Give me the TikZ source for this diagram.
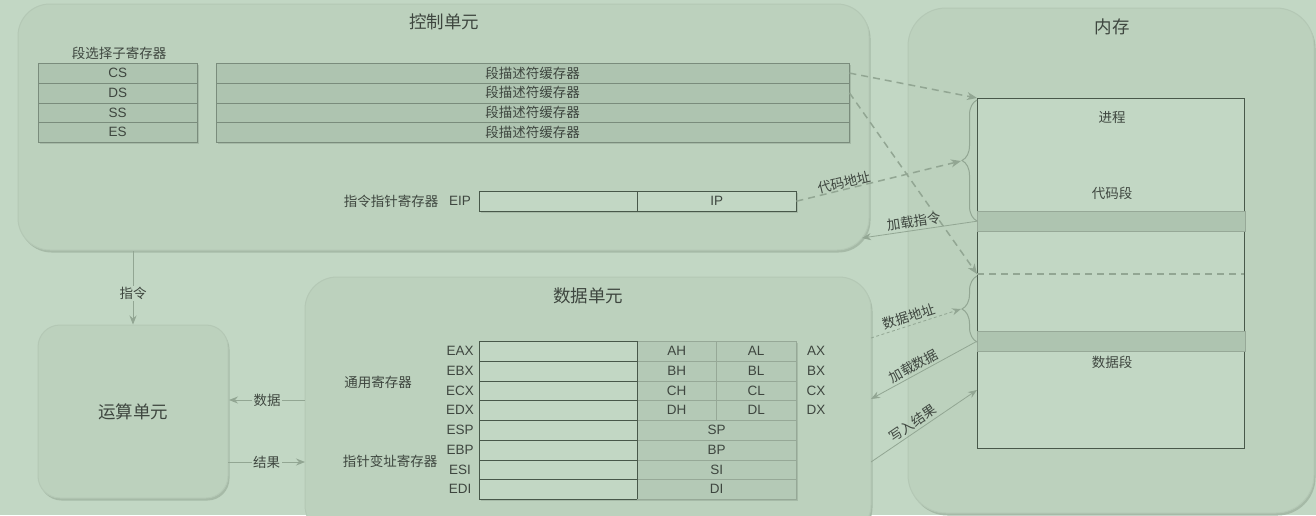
\documentclass[tikz,border=0pt]{standalone}
\usepackage{fontspec}
\setmainfont{Liberation Sans}
\newfontfamily\cjk{Noto Sans CJK SC}
\usetikzlibrary{arrows.meta,decorations.pathreplacing,shadows}
\definecolor{bgc}{RGB}{194,215,196}
\definecolor{panelc}{RGB}{188,209,189}
\definecolor{panelb}{RGB}{180,200,181}
\definecolor{shadowc}{RGB}{166,186,167}
\definecolor{cellc}{RGB}{174,196,176}
\definecolor{cellb}{RGB}{122,140,124}
\definecolor{lightc}{RGB}{194,215,196}
\definecolor{darkb}{RGB}{72,88,74}
\definecolor{txtc}{RGB}{62,70,63}
\definecolor{arrc}{RGB}{146,166,147}
\definecolor{regc}{RGB}{180,201,182}
\definecolor{regb}{RGB}{150,168,151}
\begin{document}
\begin{tikzpicture}[x=1pt,y=-1pt,
  every node/.style={text=txtc},
  base/.style={font=\fontsize{13.5}{16}\selectfont},
  cn/.style={font=\cjk\fontsize{13.5}{16}\selectfont},
  title/.style={font=\cjk\fontsize{17.5}{20}\selectfont},
  panel/.style={draw=panelb, fill=panelc, line width=1pt, inner sep=0pt,
    drop shadow={shadow xshift=1.5pt, shadow yshift=-2.5pt, fill=shadowc, opacity=1}},
  selcell/.style={base, draw=cellb, fill=cellc, minimum width=159pt, minimum height=19.75pt, inner sep=0pt, anchor=north west},
  desccell/.style={cn, draw=cellb, fill=cellc, minimum width=633pt, minimum height=19.75pt, inner sep=0pt, anchor=north west},
  lcell/.style={base, draw=darkb, fill=lightc, minimum width=158pt, minimum height=19.75pt, inner sep=0pt, anchor=north west},
  rcell/.style={base, draw=regb, fill=regc, minimum height=19.75pt, inner sep=0pt, anchor=north west},
  dasharrow/.style={draw=arrc, line width=1.5pt, dash pattern=on 7pt off 5pt, -{Stealth[length=10pt,width=8pt,inset=3pt]}},
  dotarrow/.style={draw=arrc, line width=0.8pt, dash pattern=on 3pt off 2.5pt, -{Stealth[length=9pt,width=7pt,inset=3pt]}},
  solarrow/.style={draw=arrc, line width=0.8pt, -{Stealth[length=9pt,width=7pt,inset=3pt]}},
  elbl/.style={cn, sloped, above, inner sep=2pt},
  flbl/.style={cn, fill=bgc, inner sep=1.5pt},
  bracestyle/.style={draw=arrc, line width=1pt, decorate, decoration={brace, amplitude=15pt}}
]
\useasboundingbox (0,0) rectangle (1316,515);
\clip (0,0) rectangle (1316,515);
\fill[bgc] (0,0) rectangle (1316,515);

% panels
\node[panel, rounded corners=32pt, minimum width=851pt, minimum height=246pt] (cu) at (443.5,127) {};
\node[panel, rounded corners=38pt, minimum width=406pt, minimum height=505pt] (mem) at (1111,260.5) {};
\node[panel, rounded corners=32pt, minimum width=566pt, minimum height=260pt] (du) at (588,407) {};
\node[panel, rounded corners=22pt, minimum width=190pt, minimum height=173pt] (alu) at (133,411.5) {};

% titles
\node[title] (cut) at (444,22) {控制单元};
\node[title] (memt) at (1112,27) {内存};
\node[title] (dut) at (588,296) {数据单元};
\node[title] (alut) at (133,412) {运算单元};

% control unit contents
\node[cn] (selt) at (119,53) {段选择子寄存器};
\fill[shadowc] (40,65) rectangle (199,144);
\fill[shadowc] (218,65) rectangle (851,144);
\foreach [count=\i] \t in {CS,DS,SS,ES} {
  \node[selcell] (sel\i) at (38,{63+(\i-1)*19.75}) {\t};
  \node[desccell] (desc\i) at (216,{63+(\i-1)*19.75}) {段描述符缓存器};
}
\node[cn] (ipt) at (391,201) {指令指针寄存器};
\node[base] (eipt) at (460,201) {EIP};
\fill[shadowc] (481,193) rectangle (798,213);
\node[lcell, minimum height=20pt] (eip) at (479,191) {};
\node[lcell, minimum width=159pt, minimum height=20pt] (ip) at (637,191) {IP};

% data unit contents
\node[cn] (gpr) at (378,382) {通用寄存器};
\node[cn] (ptr) at (390,461) {指针变址寄存器};
\fill[shadowc] (481,343) rectangle (798,501);
\foreach [count=\i] \e/\h/\l/\x in {EAX/AH/AL/AX, EBX/BH/BL/BX, ECX/CH/CL/CX, EDX/DH/DL/DX} {
  \node[lcell] (e\i) at (479,{341+(\i-1)*19.75}) {};
  \node[rcell, minimum width=79pt] (h\i) at (637,{341+(\i-1)*19.75}) {\h};
  \node[rcell, minimum width=80pt] (l\i) at (716,{341+(\i-1)*19.75}) {\l};
  \node[base] (en\i) at (460,{351+(\i-1)*19.75}) {\e};
  \node[base] (xn\i) at (816,{351+(\i-1)*19.75}) {\x};
}
\foreach [count=\i from 5] \e/\s in {ESP/SP, EBP/BP, ESI/SI, EDI/DI} {
  \node[lcell] (e\i) at (479,{341+(\i-1)*19.75}) {};
  \node[rcell, minimum width=159pt] (s\i) at (637,{341+(\i-1)*19.75}) {\s};
  \node[base] (en\i) at (460,{351+(\i-1)*19.75}) {\e};
}
\draw[darkb, line width=1pt] (e1.north east) -- (e8.south east);

% memory contents
\node[draw=darkb, fill=lightc, line width=1pt, anchor=north west, minimum width=267pt, minimum height=350pt, inner sep=0pt] (proc) at (977,98) {};
\node[draw=regb, fill=cellc, anchor=north west, minimum width=268pt, minimum height=20pt, inner sep=0pt] (cstrip) at (977,211) {};
\node[draw=regb, fill=cellc, anchor=north west, minimum width=268pt, minimum height=20pt, inner sep=0pt] (dstrip) at (977,331) {};
\node[cn] (jc) at (1112,117) {进程};
\node[cn] (dmd) at (1112,193) {代码段};
\node[cn] (sjd) at (1112,362) {数据段};
\coordinate (dl) at (977,274);
\coordinate (dr) at (1244,274);
\draw[arrc, line width=1.5pt, dash pattern=on 7pt off 5pt] (dl) -- (dr);

% braces
\coordinate (b1a) at (977,221);
\coordinate (b1b) at (977,100);
\coordinate (b2a) at (977,342);
\coordinate (b2b) at (977,276);
\draw[bracestyle] (b1a) -- (b1b);
\draw[bracestyle] (b2a) -- (b2b);
\coordinate (b1) at (961,161);
\coordinate (b2) at (961,309);

% connectors
\draw[dasharrow] (desc1.east) -- (proc.north west);
\draw[dasharrow] (desc2.east) -- (dl);
\draw[dasharrow] (ip.east) -- node[elbl, pos=0.3, inner sep=0pt] {代码地址} (b1);
\coordinate (cu4) at (862,238);
\draw[solarrow] (cstrip.west) -- node[elbl, pos=0.54] {加载指令} (cu4);
\coordinate (du5) at (871,338);
\draw[dotarrow] (du5) -- node[elbl, pos=0.45] {数据地址} (b2);
\coordinate (du6) at (871,399);
\draw[solarrow] (dstrip.west) -- node[elbl, pos=0.56] {加载数据} (du6);
\coordinate (du7) at (871,462);
\coordinate (mem7) at (977,390);
\draw[solarrow] (du7) -- node[elbl, pos=0.44] {写入结果} (mem7);

\coordinate (cu8) at (133,251);
\draw[solarrow] (cu8) -- node[flbl, pos=0.58] {指令} (alu.north);
\coordinate (du9) at (305,400);
\coordinate (alu9) at (229,400);
\draw[solarrow] (du9) -- node[flbl] {数据} (alu9);
\coordinate (alu10) at (228,462);
\coordinate (du10) at (305,462);
\draw[solarrow] (alu10) -- node[flbl] {结果} (du10);
\end{tikzpicture}
\end{document}
